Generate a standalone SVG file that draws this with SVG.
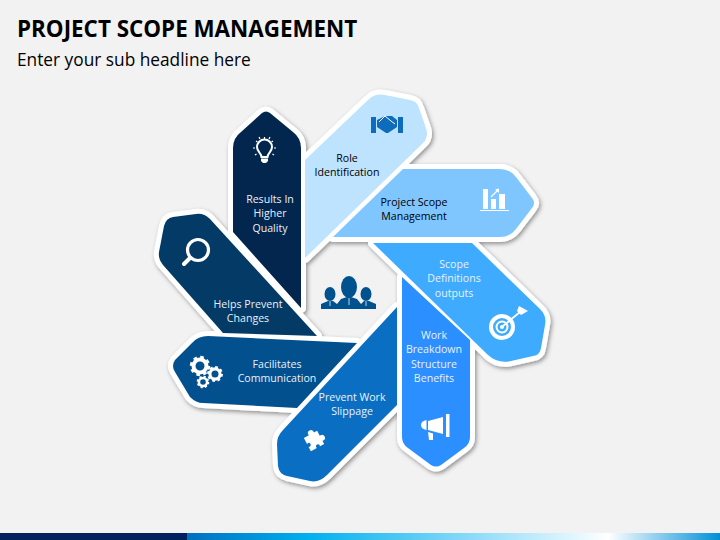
<svg xmlns="http://www.w3.org/2000/svg" width="720" height="540" viewBox="0 0 720 540">
<style>
.lb{font-family:"Open Sans","Liberation Sans",sans-serif;font-size:10.600px;text-anchor:middle;fill:#e9f1f8}
.dk{fill:#000}
.out{fill:#fff;stroke:#fff;stroke-width:10;stroke-linejoin:round}
.ic{fill:#fff}
.ln{fill:none;stroke:#fff}
</style>
<defs>
<filter id="sh" x="-10%" y="-10%" width="120%" height="120%"><feDropShadow dx="1.5" dy="2" stdDeviation="2" flood-color="#000" flood-opacity=".4"/></filter>
<linearGradient id="bar" x1="0" x2="1" y1="0" y2="0">
<stop offset="0" stop-color="#0070c0"/><stop offset=".228" stop-color="#00b0f0"/><stop offset=".79" stop-color="#fff"/><stop offset="1" stop-color="#0090d8"/>
</linearGradient>
<path id="p1" d="M233 232V148Q233 138 241 132L262 113Q266 110 270 113L293 132Q301 138 301 148V308Z"/>
<path id="p2" d="M305 160L368 100Q375 93 385 95L410 100Q417 101 419 108L426 128Q429 137 423 143L305 258Z"/>
<path id="p3" d="M333 237L403 169H500Q510 169 516 177L532 198Q536 203 532 208L516 229Q510 237 500 237Z"/>
<path id="p4" d="M373 243H472L540 309Q547 316 545 325L541 348Q540 355 533 356L511 361Q498 364 488 355Z"/>
<path id="p5" d="M402 277L470 340V437Q470 444 464 448L441 465Q436 468 431 465L408 448Q402 444 402 437Z"/>
<path id="p6" d="M397 307V405L327 475Q319 483 310 481L287 476Q279 474 278 466L277 444Q277 436 283 430Z"/>
<path id="p7" d="M357 343L297 408L203 403Q196 403 190 397L175 372Q171 366 175 360L192 343Q198 336 208 336Z"/>
<path id="p8" d="M317 336L223 333L163 265Q158 259 159 252L164 226Q166 218 173 217L196 214Q204 213 210 219Z"/>
<g id="gear"><circle r="6.500" fill="none" stroke="#fff" stroke-width="4"/><circle r="8.500" fill="none" stroke="#fff" stroke-width="3.400" stroke-dasharray="3.400 3.270"/></g>
</defs>
<rect width="720" height="540" fill="#f2f2f2"/>
<text x="17" y="37" font-family="Open Sans,Liberation Sans,sans-serif" font-weight="700" font-size="22.400" fill="#000">PROJECT SCOPE MANAGEMENT</text>
<text x="17" y="66" font-family="Open Sans,Liberation Sans,sans-serif" font-size="17.300" fill="#000">Enter your sub headline here</text>
<rect x="187" y="533" width="533" height="7" fill="url(#bar)"/>
<rect x="0" y="533" width="187" height="7" fill="#002060"/>
<g id="connectors"></g>
<g id="outlines" filter="url(#sh)">
<use href="#p1" class="out"/><use href="#p2" class="out"/><use href="#p3" class="out"/><use href="#p4" class="out"/><use href="#p5" class="out"/><use href="#p6" class="out"/><use href="#p7" class="out"/><use href="#p8" class="out"/>
</g>
<g id="results"><use href="#p1" fill="#02264e"/>
<path class="ln" stroke-width="2" d="M261.500 157C261.500 153 257 152 257 147A7.500 7.500 0 1 1 272 147C272 152 267.500 153 267.500 157Z"/>
<path class="ic" d="M261 158.500H268V161L266 163H263L261 161Z"/>
<path class="ln" stroke-width="1.200" d="M264.500 137V139M256 141L257.500 142M273 141L271.500 142M253 148H255M276 148H274M255 155L256.500 154M274 155L272.500 154M259 137L260 139M270 137L269 139"/>
<text class="lb"><tspan x="270" y="203">Results In</tspan><tspan x="270" y="217">Higher</tspan><tspan x="270" y="232">Quality</tspan></text></g>
<g id="role"><use href="#p2" fill="#bde3ff"/>
<path fill="#0f6cbd" d="M371 117H376V133H371ZM398 117H403V133H398ZM377 120L385 116H392L397 120V127L388 133H386L377 127Z"/>
<path class="ln" stroke-width="1" d="M379 122L385 116L391 121L395 124"/>
<text class="lb dk"><tspan x="347" y="162">Role</tspan><tspan x="347" y="176">Identification</tspan></text></g>
<g id="project"><use href="#p3" fill="#7fc6ff"/>
<path class="ic" d="M483 189H488V209H483ZM491 199H496V209H491ZM499 194H505V209H499ZM480 210H509V211H480Z"/>
<path class="ln" stroke-width="1.300" d="M491 197L497 191"/><path class="ic" d="M499 188.500L499 193L495 189.500Z"/>
<text class="lb dk"><tspan x="414" y="206">Project Scope</tspan><tspan x="414" y="220">Management</tspan></text></g>
<g id="scope"><use href="#p4" fill="#3fabff"/>
<circle class="ln" cx="502" cy="327" r="11" stroke-width="4"/><circle class="ln" cx="502" cy="327" r="5.500" stroke-width="2"/><circle class="ic" cx="502" cy="327" r="2"/>
<path class="ln" stroke-width="1.800" d="M503 326L520 312"/><path class="ic" d="M517 311L519 306L528 311L521 315Z"/>
<text class="lb"><tspan x="454" y="268">Scope</tspan><tspan x="454" y="282">Definitions</tspan><tspan x="454" y="297">outputs</tspan></text></g>
<g id="work"><use href="#p5" fill="#2b8fff"/>
<path class="ic" d="M446 414H449.500V437H446ZM443 417V434L428 430V421ZM426.500 420V430Q421 429 421 425Q421 421 426.500 420ZM428 432L433 433.500V440H429Z"/>
<text class="lb"><tspan x="434" y="339">Work</tspan><tspan x="434" y="353">Breakdown</tspan><tspan x="434" y="368">Structure</tspan><tspan x="434" y="382">Benefits</tspan></text></g>
<g id="prevent"><use href="#p6" fill="#0a6fc2"/>
<g transform="translate(314 441) rotate(-28)"><rect class="ic" x="-7.500" y="-7.500" width="15" height="15"/><circle class="ic" cx="1" cy="-8.500" r="3"/><circle class="ic" cx="8.500" cy="1" r="3"/><circle cx="-6.500" cy="1" r="2" fill="#0a6fc2"/><circle cx="1" cy="6.500" r="2" fill="#0a6fc2"/></g>
<text class="lb"><tspan x="352" y="401">Prevent Work</tspan><tspan x="352" y="415">Slippage</tspan></text></g>
<g id="facilitates"><use href="#p7" fill="#03508f"/>
<use href="#gear" transform="translate(200 366)"/><use href="#gear" transform="translate(215 374) scale(.78)"/><use href="#gear" transform="translate(203 382) scale(.62)"/>
<text class="lb"><tspan x="277" y="368">Facilitates</tspan><tspan x="277" y="382">Communication</tspan></text></g>
<g id="helps"><use href="#p8" fill="#033a66"/>
<circle class="ln" cx="198" cy="250" r="10.500" stroke-width="3.200"/><path class="ln" stroke-width="4" stroke-linecap="round" d="M190 258L184 264"/>
<text class="lb"><tspan x="248" y="308">Helps Prevent</tspan><tspan x="248" y="322">Changes</tspan></text></g>
<g id="center" fill="#00528f">
<ellipse cx="349" cy="287" rx="8" ry="11"/><ellipse cx="330" cy="294" rx="5.500" ry="7"/><ellipse cx="366" cy="294" rx="5.500" ry="7"/>
<path d="M321 309V304L328 301H333L337 304L341 299L347 297H351L357 299L361 304L364 301H369L376 304V309Z"/>
<path stroke="#f2f2f2" stroke-width=".8" d="M330 301V306M366 301V306M349 298V305"/>
</g>
</svg>
